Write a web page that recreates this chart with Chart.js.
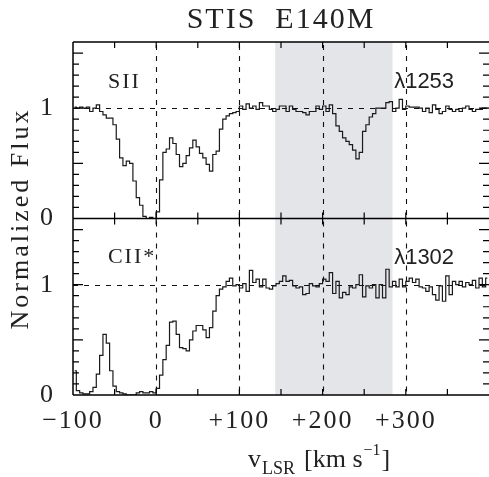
<!DOCTYPE html>
<html>
<head>
<meta charset="utf-8">
<script src="https://cdn.jsdelivr.net/npm/chart.js@4"></script>
<style>
  html, body { margin: 0; padding: 0; background: #fff; }
  #wrap { width: 489px; height: 477px; }
</style>
</head>
<body>
<div id="wrap"><canvas id="myChart" width="489" height="477"></canvas></div>
<script>
// bin centres in km/s
const VEL = [
  -98, -94, -90, -86, -82, -78, -74, -70, -66, -62,
  -58, -54, -50, -46, -42, -38, -34, -30, -26, -22,
  -18, -14, -10, -6, -2, 2, 6, 10, 14, 18,
  22, 26, 30, 34, 38, 42, 46, 50, 54, 58,
  62, 66, 70, 74, 78, 82, 86, 90, 94, 98,
  102, 106, 110, 114, 118, 122, 126, 130, 134, 138,
  142, 146, 150, 154, 158, 162, 166, 170, 174, 178,
  182, 186, 190, 194, 198, 202, 206, 210, 214, 218,
  222, 226, 230, 234, 238, 242, 246, 250, 254, 258,
  262, 266, 270, 274, 278, 282, 286, 290, 294, 298,
  302, 306, 310, 314, 318, 322, 326, 330, 334, 338,
  342, 346, 350, 354, 358, 362, 366, 370, 374, 378,
  382, 386, 390, 394, 398
];

// S II 1253
const S2_FLUX = [
  1.01, 1.00, 1.01, 1.00, 1.01, 0.97, 1.00, 1.03, 0.97, 0.94,
  0.91, 0.91, 0.85, 0.72, 0.55, 0.48, 0.52, 0.50, 0.34, 0.19,
  0.12, 0.02, 0.00, 0.01, 0.00, 0.06, 0.35, 0.60, 0.63, 0.73,
  0.68, 0.58, 0.47, 0.50, 0.57, 0.64, 0.71, 0.65, 0.59, 0.55,
  0.49, 0.43, 0.58, 0.61, 0.81, 0.90, 0.93, 0.95, 0.96, 0.97,
  1.02, 0.99, 1.04, 1.00, 1.02, 0.99, 1.05, 1.02, 1.02, 0.99,
  0.97, 0.99, 1.02, 1.02, 0.97, 1.02, 0.99, 0.97, 0.97, 0.96,
  0.94, 0.97, 0.97, 1.02, 0.99, 1.02, 0.97, 1.03, 0.95, 0.84,
  0.79, 0.73, 0.70, 0.67, 0.62, 0.54, 0.60, 0.79, 0.85, 0.92,
  0.95, 1.00, 1.00, 1.00, 1.05, 1.06, 0.97, 1.00, 1.08, 0.99,
  1.02, 1.01, 1.01, 1.01, 1.00, 0.97, 1.00, 0.96, 1.03, 0.99,
  0.95, 0.97, 1.02, 0.99, 0.97, 0.99, 0.97, 1.00, 1.02, 0.99,
  0.97, 0.99, 0.99, 1.00, 1.00
];

// C II* 1302
const C2S_FLUX = [
  0.22, 0.04, 0.02, 0.01, 0.01, 0.03, 0.07, 0.19, 0.36, 0.55,
  0.47, 0.22, 0.08, 0.03, 0.02, 0.01, 0.00, 0.00, 0.00, 0.02,
  0.03, 0.02, 0.02, 0.03, 0.02, 0.06, 0.18, 0.32, 0.45, 0.66,
  0.67, 0.55, 0.43, 0.42, 0.40, 0.50, 0.58, 0.63, 0.63, 0.59,
  0.52, 0.61, 0.76, 0.90, 0.96, 0.98, 1.03, 1.06, 0.99, 1.00,
  0.97, 1.01, 0.94, 1.13, 1.02, 1.05, 0.98, 1.05, 0.97, 0.96,
  0.99, 1.01, 1.03, 1.08, 1.03, 1.04, 0.99, 0.97, 0.98, 0.91,
  0.92, 1.01, 0.99, 0.98, 1.01, 1.05, 1.03, 1.11, 0.92, 1.03,
  0.88, 0.93, 0.91, 0.98, 0.97, 1.00, 1.09, 0.89, 0.99, 0.97,
  1.00, 0.88, 1.00, 0.88, 1.14, 0.98, 1.03, 0.98, 1.05, 0.98,
  1.03, 1.06, 1.02, 1.05, 0.98, 0.97, 0.94, 0.98, 0.91, 0.86,
  0.99, 0.85, 1.08, 0.91, 1.03, 1.00, 1.03, 0.98, 1.02, 1.00,
  1.04, 0.97, 1.06, 0.98, 1.06
];

const X_TICKS = [-100, 0, 100, 200, 300];
const X_TICK_LABELS = ['\u2212100', '0', '+100', '+200', '+300'];
const Y_TICKS = [0, 1];
const SHADE_RANGE = [143, 284];
const DASH_VEL = [0, 100, 200, 300];

const SERIF = '"Liberation Serif", "Times New Roman", serif';
const SANS = '"Liberation Sans", Arial, sans-serif';

const LINE_LABELS = [
  { axis: 'yTop', v: -58, f: 1.18, text: 'SII', font: '22px ' + SERIF },
  { axis: 'yTop', v: 286, f: 1.18, text: '\u03bb1253', font: '22px ' + SANS },
  { axis: 'yBot', v: -58, f: 1.20, text: 'CII*', font: '22px ' + SERIF },
  { axis: 'yBot', v: 286, f: 1.19, text: '\u03bb1302', font: '22px ' + SANS }
];

const toPoints = (ys) => ys.map((y, i) => ({ x: VEL[i], y: y }));

const panelDeco = {
  id: 'panelDeco',
  beforeDraw(chart) {
    chart.ctx.letterSpacing = '2px';
  },
  beforeDatasetsDraw(chart) {
    const { ctx, chartArea: a, scales } = chart;
    const x = scales.x;
    ctx.save();
    const s0 = x.getPixelForValue(SHADE_RANGE[0]);
    const s1 = x.getPixelForValue(SHADE_RANGE[1]);
    ctx.fillStyle = '#e4e5e8';
    ctx.fillRect(s0, a.top, s1 - s0, a.bottom - a.top);

    ctx.strokeStyle = '#111';
    ctx.lineWidth = 1.1;
    ctx.setLineDash([5, 6]);
    for (const id of ['yTop', 'yBot']) {
      const y = scales[id];
      for (const v of DASH_VEL) {
        const px = Math.round(x.getPixelForValue(v)) + 0.5;
        ctx.beginPath();
        ctx.moveTo(px, y.top + 3);
        ctx.lineTo(px, y.bottom);
        ctx.stroke();
      }
      const py = Math.round(y.getPixelForValue(1)) + 0.5;
      ctx.beginPath();
      ctx.moveTo(a.left, py);
      ctx.lineTo(a.right, py);
      ctx.stroke();
    }
    ctx.restore();
  },
  afterDatasetsDraw(chart) {
    const { ctx, chartArea: a, scales } = chart;
    const x = scales.x;
    ctx.save();
    ctx.strokeStyle = '#000';
    ctx.setLineDash([]);
    ctx.lineWidth = 1.5;
    const mid = scales.yTop.bottom;
    ctx.beginPath();
    ctx.moveTo(a.left, a.top); ctx.lineTo(a.right, a.top);
    ctx.moveTo(a.left, mid); ctx.lineTo(a.right, mid);
    ctx.moveTo(a.left, a.bottom); ctx.lineTo(a.right, a.bottom);
    ctx.moveTo(a.left, a.top); ctx.lineTo(a.left, a.bottom);
    ctx.stroke();

    ctx.lineWidth = 1.2;
    ctx.beginPath();
    for (const id of ['yTop', 'yBot']) {
      const y = scales[id];
      for (let v = -50; v < 400; v += 50) {
        const px = x.getPixelForValue(v);
        ctx.moveTo(px, y.top); ctx.lineTo(px, y.top + 6);
        ctx.moveTo(px, y.bottom); ctx.lineTo(px, y.bottom - 6);
      }
      for (let k = 1; k < 16; k++) {
        const py = y.getPixelForValue(k / 10);
        const len = k % 5 === 0 ? 10 : 6;
        ctx.moveTo(a.left, py); ctx.lineTo(a.left + len, py);
        ctx.moveTo(a.right, py); ctx.lineTo(a.right - len, py);
      }
    }
    ctx.stroke();
    ctx.restore();
  },
  afterDraw(chart) {
    const { ctx, chartArea: a, scales } = chart;
    const x = scales.x;
    ctx.save();
    ctx.fillStyle = '#222';
    ctx.textBaseline = 'alphabetic';
    ctx.textAlign = 'left';
    for (const lab of LINE_LABELS) {
      ctx.font = lab.font;
      ctx.letterSpacing = lab.font.includes('Sans') ? '0px' : '2px';
      ctx.fillText(lab.text, x.getPixelForValue(lab.v), scales[lab.axis].getPixelForValue(lab.f));
    }

    // y axis title
    ctx.save();
    ctx.font = '26px ' + SERIF;
    ctx.letterSpacing = '3px';
    ctx.textAlign = 'center';
    ctx.translate(28, (a.top + a.bottom) / 2);
    ctx.rotate(-Math.PI / 2);
    ctx.fillText('Normalized Flux', 0, 0);
    ctx.restore();

    // x axis title with sub/superscripts
    let cx = a.left + 175;
    const base = 467;
    ctx.letterSpacing = '0px';
    ctx.font = '26px ' + SERIF;
    ctx.fillText('v', cx, base);
    cx += ctx.measureText('v').width + 1;
    ctx.font = '18px ' + SERIF;
    ctx.fillText('LSR', cx, base + 7);
    cx += ctx.measureText('LSR').width + 9;
    ctx.font = '26px ' + SERIF;
    ctx.fillText('[km s', cx, base);
    cx += ctx.measureText('[km s').width + 1;
    ctx.font = '16px ' + SERIF;
    ctx.fillText('\u22121', cx, base - 12);
    cx += ctx.measureText('\u22121').width + 1;
    ctx.font = '26px ' + SERIF;
    ctx.fillText(']', cx, base);
    ctx.restore();
  }
};

const ctx = document.getElementById('myChart');
const yAxis = (extra) => Object.assign({
  type: 'linear',
  position: 'left',
  stack: 'flux',
  stackWeight: 1,
  min: 0,
  max: 1.6,
  grid: { display: false },
  border: { display: false },
  afterBuildTicks: s => { s.ticks = Y_TICKS.map(v => ({ value: v })); },
  afterFit: s => { s.width = 73; },
  ticks: {
    padding: 10,
    color: '#222',
    font: { family: SERIF, size: 26 },
    callback: v => String(v)
  }
}, extra);

const PLOT = new Chart(ctx, {
  type: 'line',
  data: {
    datasets: [{
      label: 'CII* 1302',
      data: toPoints(C2S_FLUX),
      yAxisID: 'yBot',
      stepped: 'middle',
      borderColor: '#1a1a1a',
      borderWidth: 1.2,
      pointRadius: 0,
      fill: false
    }, {
      label: 'SII 1253',
      data: toPoints(S2_FLUX),
      yAxisID: 'yTop',
      stepped: 'middle',
      borderColor: '#1a1a1a',
      borderWidth: 1.2,
      pointRadius: 0,
      fill: false
    }]
  },
  options: {
    responsive: false,
    animation: false,
    devicePixelRatio: 1,
    layout: { padding: 0 },
    plugins: {
      legend: { display: false },
      tooltip: { enabled: false },
      title: {
        display: true,
        text: 'STIS  E140M',
        fullSize: false,
        color: '#222',
        font: { family: SERIF, size: 30, weight: 'normal' },
        padding: { top: 2, bottom: 4 }
      }
    },
    scales: {
      x: {
        type: 'linear',
        position: 'bottom',
        min: -100,
        max: 400,
        grid: { display: false },
        border: { display: false },
        afterBuildTicks: s => { s.ticks = X_TICKS.map(v => ({ value: v })); },
        afterFit: s => { s.height = 82; },
        ticks: {
          autoSkip: false,
          maxRotation: 0,
          padding: 3,
          color: '#222',
          font: { family: SERIF, size: 26 },
          callback: (v, i) => X_TICK_LABELS[i]
        }
      },
      yBot: yAxis({}),
      yTop: yAxis({})
    }
  },
  plugins: [panelDeco]
});
</script>
</body>
</html>
